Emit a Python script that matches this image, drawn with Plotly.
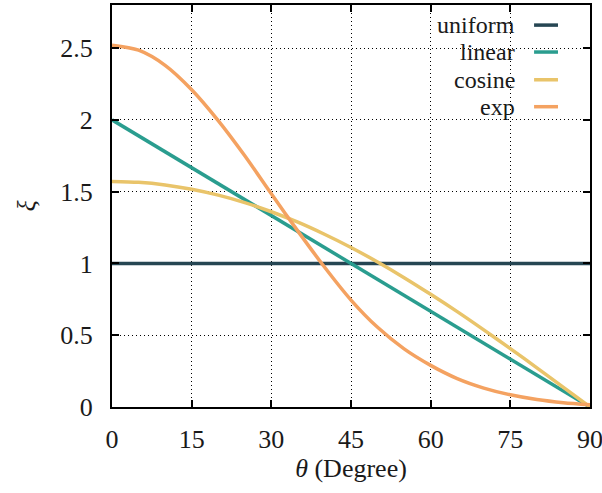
import plotly.graph_objects as go

# data
theta = [0, 5, 10, 15, 20, 25, 30, 35, 40, 45, 50, 55, 60, 65, 70, 75, 80, 85, 90]
uniform_x = [0, 90]
uniform_y = [1.0, 1.0]
linear_x = [0, 90]
linear_y = [2.0, 0.0]
cosine_y = [1.571, 1.565, 1.547, 1.517, 1.476, 1.424, 1.360, 1.287, 1.203, 1.111,
            1.010, 0.901, 0.785, 0.664, 0.537, 0.407, 0.273, 0.137, 0.0]
exp_y = [2.52, 2.485, 2.38, 2.21, 1.995, 1.75, 1.485, 1.225, 0.975, 0.745,
         0.555, 0.405, 0.29, 0.198, 0.132, 0.085, 0.052, 0.03, 0.016]

x_ticks = [0, 15, 30, 45, 60, 75, 90]
y_ticks = [0, 0.5, 1, 1.5, 2, 2.5]
y_ticklabels = ["0", "0.5", "1", "1.5", "2", "2.5"]

names = ["uniform", "linear", "cosine", "exp"]
colors = ["#264653", "#2a9d8f", "#e9c46a", "#f4a261"]

FONT = "Liberation Serif"
TXT = "#1a1a1a"

fig = go.Figure()
series = [(uniform_x, uniform_y), (linear_x, linear_y), (theta, cosine_y), (theta, exp_y)]
for (xs, ys), name, col in zip(series, names, colors):
    fig.add_trace(go.Scatter(x=xs, y=ys, mode="lines", name=name,
                             line=dict(color=col, width=3.5, shape="spline", smoothing=0.8),
                             showlegend=False))

# legend background (hides grid), legend entries on the right like the original
fig.add_shape(type="rect", xref="paper", yref="paper", x0=0.6, x1=0.997, y0=0.71, y1=0.997,
              fillcolor="white", line=dict(width=0), layer="between")
leg_y = [0.950, 0.883, 0.814, 0.747]
for name, col, ly in zip(names, colors, leg_y):
    fig.add_annotation(xref="paper", yref="paper", x=0.845, y=ly, text=name,
                       showarrow=False, xanchor="right", yanchor="middle", borderpad=0,
                       font=dict(family=FONT, size=24, color=TXT))
    fig.add_shape(type="line", xref="paper", yref="paper", x0=0.883, x1=0.933, y0=ly, y1=ly,
                  line=dict(color=col, width=3.5), layer="above")

axis_common = dict(showline=True, linecolor="black", linewidth=2, mirror="ticks",
                   ticks="inside", ticklen=7, tickwidth=2, tickcolor="black",
                   showgrid=True, gridcolor="black", gridwidth=1, griddash="1px,3px",
                   zeroline=False, ticklabeloverflow="allow", automargin=False,
                   tickfont=dict(family=FONT, size=26, color=TXT))

fig.update_xaxes(range=[0, 90], tickvals=x_ticks, ticktext=[str(v) for v in x_ticks],
                 title=dict(text="<i>θ</i> (Degree)", font=dict(family=FONT, size=26, color=TXT),
                            standoff=6),
                 ticklabelstandoff=8, **axis_common)
fig.update_yaxes(range=[0, 2.8], tickvals=y_ticks, ticktext=y_ticklabels,
                 title=dict(text="<i>ξ</i>", font=dict(family=FONT, size=26, color=TXT),
                            standoff=17),
                 ticklabelstandoff=12, **axis_common)

fig.update_layout(width=602, height=493, margin=dict(l=112, r=12, t=5, b=86, pad=0),
                  plot_bgcolor="white", paper_bgcolor="white")

fig.write_html("out.html")
